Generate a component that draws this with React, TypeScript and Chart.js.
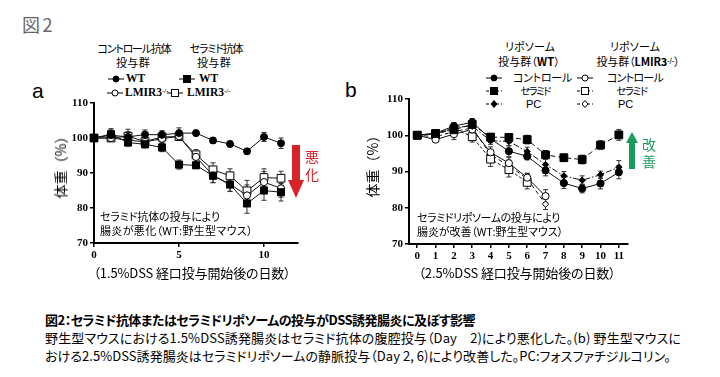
import React, { useEffect, useLayoutEffect, useRef } from 'react';
import { Chart, registerables } from 'chart.js';

Chart.register(...registerables);

// ---------- data ----------
const daysA = [0, 1, 2, 3, 4, 5, 6, 7, 8, 9, 10, 11];
const xTicksA = [0, 5, 10];
const yTicks = [70, 80, 90, 100, 110];

const wtControlA = [100, 100.8, 100.3, 101.0, 100.9, 101.4, 101.4, 99.3, 98.3, 96.2, 100.3, 98.5];
const wtControlAErr = [0, 1.8, 1.5, 1.3, 1.2, 1.5, 0.8, 0.8, 0.8, 0.8, 1.3, 1.5];
const wtCeramideA = [100, 101.1, 98.7, 98.2, 97.3, 92.4, 92.2, 89.2, 86.7, 81.3, 85.0, 84.5];
const wtCeramideAErr = [0, 1.5, 1.0, 1.0, 1.2, 1.3, 0.8, 2.0, 2.0, 2.8, 2.8, 2.5];
const lmirControlA = [100, 100.0, 99.4, 98.9, 99.8, 100.5, 94.6, 89.3, 86.8, 83.6, 87.4, 85.6];
const lmirControlAErr = [0, 1.0, 1.5, 1.5, 1.5, 1.2, 1.5, 2.0, 2.0, 3.0, 3.0, 2.5];
const lmirCeramideA = [100, 100.0, 100.5, 99.0, 100.3, 100.4, 95.2, 90.9, 89.2, 84.9, 88.7, 88.5];
const lmirCeramideAErr = [0, 1.0, 2.0, 1.5, 1.5, 1.0, 1.5, 2.0, 2.0, 3.0, 2.5, 2.0];

const daysB = [0, 1, 2, 3, 4, 5, 6, 7, 8, 9, 10, 11];
const xTicksB = [0, 1, 2, 3, 4, 5, 6, 7, 8, 9, 10, 11];

const wtControlB = [100, 100.6, 102.5, 103.6, 99.0, 95.6, 94.2, 90.3, 86.8, 85.3, 86.7, 89.8];
const wtControlBErr = [0, 0.8, 1.0, 1.0, 1.0, 1.5, 1.0, 1.5, 1.5, 1.2, 1.5, 1.8];
const wtCeramideB = [100, 100.5, 101.5, 103.0, 99.5, 99.4, 98.8, 94.6, 93.8, 93.3, 97.3, 100.1];
const wtCeramideBErr = [0, 0.8, 1.0, 1.0, 1.0, 1.0, 1.2, 1.2, 1.0, 1.2, 1.2, 1.5];
const wtPcB = [100, 100.3, 102.2, 102.5, 98.5, 98.3, 95.5, 91.9, 88.8, 87.6, 89.1, 91.2];
const wtPcBErr = [0, 0.8, 1.0, 1.0, 1.0, 1.2, 1.2, 1.5, 1.2, 1.2, 1.0, 1.8];
const lmirControlB = [100, 98.8, 100.3, 101.6, 95.3, 92.3, 88.3, 83.2];
const lmirControlBErr = [0, 0.8, 1.5, 1.5, 1.5, 1.5, 1.2, 1.8];
const lmirCeramideB = [100, 100.3, 101.8, 99.6, 93.4, 90.5, 87.0];
const lmirCeramideBErr = [0, 0.8, 1.5, 1.5, 2.0, 2.0, 1.8];
const lmirPcB = [100, 99.6, 101.0, 102.0, 94.6, 91.6, 88.0, 81.0];
const lmirPcBErr = [0, 0.8, 1.0, 1.0, 1.5, 1.5, 1.5, 1.5];

// ---------- styles ----------
const FONT_JP = '"Noto Sans CJK JP", "Noto Sans", sans-serif';
const FONT_SERIF = '"Liberation Serif", "DejaVu Serif", serif';
const FONT_SANS = '"Liberation Sans", Arial, sans-serif';
const RED = '#d9232a';
const GREEN = '#1a9c5b';

const pts = (days: number[], vals: number[]) => vals.map((v, i) => ({ x: days[i], y: v }));

const errorBars = {
  id: 'errorBars',
  beforeDatasetsDraw(chart: any) {
    const ctx = chart.ctx;
    const xs = chart.scales.x;
    const ys = chart.scales.y;
    ctx.save();
    chart.data.datasets.forEach((ds: any) => {
      if (!ds.errors) return;
      ctx.strokeStyle = '#333';
      ctx.lineWidth = 1;
      ctx.setLineDash([]);
      ds.data.forEach((p: any, i: number) => {
        const e = ds.errors[i];
        if (!e) return;
        const px = xs.getPixelForValue(p.x);
        const t = ys.getPixelForValue(p.y + e);
        const b = ys.getPixelForValue(p.y - e);
        ctx.beginPath();
        ctx.moveTo(px, t);
        ctx.lineTo(px, b);
        ctx.moveTo(px - 2.5, t);
        ctx.lineTo(px + 2.5, t);
        ctx.moveTo(px - 2.5, b);
        ctx.lineTo(px + 2.5, b);
        ctx.stroke();
      });
    });
    ctx.restore();
  },
};

function ds(label: string, days: number[], vals: number[], errs: number[], style: string, filled: boolean, r: number, dash: number[] = []) {
  return {
    label,
    data: pts(days, vals),
    errors: errs,
    borderColor: '#111',
    borderWidth: 1,
    borderDash: dash,
    pointStyle: style,
    pointRadius: r,
    pointBackgroundColor: filled ? '#000' : '#fff',
    pointBorderColor: '#000',
    pointBorderWidth: 1,
    tension: 0,
    clip: false as any,
  };
}

function scaleOpts(min: number, max: number, ticks: number[], afterFit: (s: any) => void) {
  return {
    type: 'linear' as const,
    min,
    max,
    afterBuildTicks: (s: any) => {
      s.ticks = ticks.map((v) => ({ value: v }));
    },
    afterFit,
    grid: { display: true, drawOnChartArea: false, drawTicks: true, tickLength: 4, color: '#000', lineWidth: 1.5 },
    border: { display: true, color: '#000', width: 2 },
    ticks: { font: { family: FONT_SERIF, weight: 'bold' as const, size: 11 }, color: '#000', padding: 2, maxRotation: 0, autoSkip: false },
  };
}

function PlotA() {
  const ref = useRef<HTMLCanvasElement>(null);
  useEffect(() => {
    const chart = new Chart(ref.current!, {
      type: 'line',
      data: {
        datasets: [
          ds('WT コントロール抗体', daysA, wtControlA, wtControlAErr, 'circle', true, 3.5),
          ds('WT セラミド抗体', daysA, wtCeramideA, wtCeramideAErr, 'rect', true, 5),
          ds('LMIR3-/- コントロール抗体', daysA, lmirControlA, lmirControlAErr, 'circle', false, 3.6),
          ds('LMIR3-/- セラミド抗体', daysA, lmirCeramideA, lmirCeramideAErr, 'rect', false, 5.5),
        ] as any,
      },
      options: {
        animation: false,
        responsive: false,
        maintainAspectRatio: false,
        layout: { padding: { top: 13, right: 12, bottom: 0, left: 0 } },
        plugins: { legend: { display: false }, tooltip: { enabled: false } },
        scales: {
          x: scaleOpts(0, 12, xTicksA, (s) => { s.height = 22; }),
          y: scaleOpts(70, 110, yTicks, (s) => { s.width = 74; }),
        } as any,
      },
      plugins: [errorBars],
    });
    return () => chart.destroy();
  }, []);
  return <canvas ref={ref} width={290} height={175} style={{ position: 'absolute', left: 20, top: 90, width: 290, height: 175 }} />;
}

function PlotB() {
  const ref = useRef<HTMLCanvasElement>(null);
  useEffect(() => {
    const chart = new Chart(ref.current!, {
      type: 'line',
      data: {
        datasets: [
          ds('WT コントロール', daysB, wtControlB, wtControlBErr, 'circle', true, 3.6),
          ds('WT セラミド', daysB, wtCeramideB, wtCeramideBErr, 'rect', true, 5.5, [5, 3]),
          ds('WT PC', daysB, wtPcB, wtPcBErr, 'rectRot', true, 3.2, [6, 2, 1.5, 2]),
          ds('LMIR3-/- コントロール', daysB, lmirControlB, lmirControlBErr, 'circle', false, 3.6),
          ds('LMIR3-/- セラミド', daysB, lmirCeramideB, lmirCeramideBErr, 'rect', false, 5.5, [3, 2]),
          ds('LMIR3-/- PC', daysB, lmirPcB, lmirPcBErr, 'rectRot', false, 3.2, [4, 3]),
        ] as any,
      },
      options: {
        animation: false,
        responsive: false,
        maintainAspectRatio: false,
        layout: { padding: { top: 11, right: 12, bottom: 0, left: 0 } },
        plugins: { legend: { display: false }, tooltip: { enabled: false } },
        scales: {
          x: scaleOpts(-0.45, 11.5, xTicksB, (s) => { s.height = 22; }),
          y: scaleOpts(70, 110, yTicks, (s) => { s.width = 69; }),
        } as any,
      },
      plugins: [errorBars],
    });
    return () => chart.destroy();
  }, []);
  return <canvas ref={ref} width={300} height={178} style={{ position: 'absolute', left: 340, top: 88, width: 300, height: 178 }} />;
}

type TProps = {
  x: number; y: number; w?: number; size: number; align?: 'left' | 'center';
  bold?: boolean; color?: string; family?: string; children: React.ReactNode;
};
function T({ x, y, w, size, align = 'left', bold, color = '#000', family = FONT_JP, children }: TProps) {
  const ref = useRef<HTMLDivElement>(null);
  useLayoutEffect(() => {
    const el = ref.current;
    if (!el || !w) return;
    el.style.letterSpacing = '0px';
    const cur = el.getBoundingClientRect().width;
    const n = Array.from(el.textContent || '').length;
    if (n > 1) el.style.letterSpacing = (w - cur) / n + 'px';
  }, [w]);
  return (
    <div
      ref={ref}
      style={{
        position: 'absolute', left: x, top: y,
        transform: `translate(${align === 'center' ? '-50%' : '0'}, -50%)`,
        fontSize: size, lineHeight: 1.2, fontWeight: bold ? 700 : 400, color,
        fontFamily: family, whiteSpace: 'nowrap', fontFeatureSettings: '"palt"',
      }}
    >
      {children}
    </div>
  );
}

function VT({ x, y, size, children }: { x: number; y: number; size: number; children: React.ReactNode }) {
  return (
    <div style={{
      position: 'absolute', left: x, top: y, transform: 'translate(-50%, -50%) rotate(-90deg)',
      fontSize: size, fontFamily: FONT_JP, whiteSpace: 'nowrap', lineHeight: 1, color: '#000',
    }}>{children}</div>
  );
}

function Mk({ x, y, shape, filled, dash, w = 16 }: { x: number; y: number; shape: 'circle' | 'rect' | 'diamond'; filled: boolean; dash?: string; w?: number }) {
  const c = w / 2;
  const fill = filled ? '#000' : '#fff';
  let m: React.ReactNode = null;
  if (shape === 'circle') m = <circle cx={c} cy={6} r={3} fill={fill} stroke="#000" strokeWidth={1} />;
  if (shape === 'rect') m = <rect x={c - 3.5} y={2.5} width={7} height={7} fill={fill} stroke="#000" strokeWidth={1} />;
  if (shape === 'diamond') m = <polygon points={`${c},2.5 ${c + 3},6 ${c},9.5 ${c - 3},6`} fill={fill} stroke="#000" strokeWidth={1} />;
  return (
    <svg width={w} height={12} style={{ position: 'absolute', left: x - c, top: y - 6 }}>
      <line x1={0} y1={6} x2={w} y2={6} stroke="#000" strokeWidth={1} strokeDasharray={dash} />
      {m}
    </svg>
  );
}

const sup = (s: string) => <sup style={{ fontSize: '60%', verticalAlign: '0.5em', lineHeight: 0 }}>{s}</sup>;

export default function App() {
  return (
    <div style={{ position: 'fixed', left: 0, top: 0, width: 720, height: 377, background: '#fff', overflow: 'hidden' }}>
      <T x={22} y={25} w={33} size={18} color="#666">図2</T>

      {/* panel labels */}
      <T x={32} y={91} size={21} family={FONT_SANS}>a</T>
      <T x={345} y={90} size={21} family={FONT_SANS}>b</T>

      {/* legend a */}
      <T x={134} y={49} w={73} size={11} align="center">コントロール抗体</T>
      <T x={133} y={63} w={34} size={11} align="center">投与群</T>
      <T x={216} y={49} w={53} size={11} align="center">セラミド抗体</T>
      <T x={214} y={63} w={34} size={11} align="center">投与群</T>
      <Mk x={116} y={79} shape="circle" filled />
      <T x={126} y={79} size={11.5} bold family={FONT_SERIF}>WT</T>
      <Mk x={187} y={79} shape="rect" filled />
      <T x={199} y={79} size={11.5} bold family={FONT_SERIF}>WT</T>
      <Mk x={115} y={93} shape="circle" filled={false} />
      <T x={125} y={93} size={11.5} bold family={FONT_SERIF}>LMIR3{sup('-/-')}</T>
      <Mk x={175} y={93} shape="rect" filled={false} />
      <T x={187} y={93} size={11.5} bold family={FONT_SERIF}>LMIR3{sup('-/-')}</T>

      {/* legend b */}
      <T x={530} y={47} w={50} size={11} align="center">リポソーム</T>
      <T x={529} y={62} w={62} size={11} align="center">投与群（<b>WT</b>）</T>
      <T x={635} y={47} w={50} size={11} align="center">リポソーム</T>
      <T x={638} y={62} w={83} size={11} align="center">投与群（<b>LMIR3{sup('-/-')}</b>）</T>
      <Mk x={494} y={78} shape="circle" filled />
      <T x={513} y={78} w={59} size={11}>コントロール</T>
      <Mk x={494} y={91} shape="rect" filled dash="3 2" />
      <T x={520} y={91} w={30} size={10.5}>セラミド</T>
      <Mk x={494} y={104} shape="diamond" filled dash="3 2" />
      <T x={526} y={105} size={11} family={FONT_SANS}>PC</T>
      <Mk x={585} y={78} shape="circle" filled={false} />
      <T x={607} y={78} w={56} size={11}>コントロール</T>
      <Mk x={585} y={91} shape="rect" filled={false} dash="3 2" />
      <T x={616} y={91} w={31} size={10.5}>セラミド</T>
      <Mk x={585} y={104} shape="diamond" filled={false} dash="3 2" />
      <T x={618} y={105} size={11} family={FONT_SANS}>PC</T>

      <PlotA />
      <PlotB />

      {/* axis titles */}
      <VT x={60} y={164} size={14}>体重（%）</VT>
      <VT x={372} y={163} size={14}>体重（%）</VT>
      <T x={192} y={273} w={197} size={13} align="center">（1.5%DSS 経口投与開始後の日数）</T>
      <T x={517} y={273} w={197} size={13} align="center">（2.5%DSS 経口投与開始後の日数）</T>

      {/* annotations */}
      <T x={100} y={217} w={120} size={11}>セラミド抗体の投与により</T>
      <T x={100} y={231} w={153} size={11}>腸炎が悪化（WT:野生型マウス）</T>
      <T x={417} y={218} w={143} size={11}>セラミドリポソームの投与により</T>
      <T x={417} y={232} w={146} size={11}>腸炎が改善（WT:野生型マウス）</T>

      {/* arrows */}
      <svg width={20} height={60} style={{ position: 'absolute', left: 286, top: 143 }}>
        <polygon points="6,2 14,2 14,37 18,37 10,55 2,37 6,37" fill={RED} />
      </svg>
      <T x={305} y={156} size={14} color={RED}>悪</T>
      <T x={305} y={174} size={14} color={RED}>化</T>
      <svg width={16} height={42} style={{ position: 'absolute', left: 624, top: 130 }}>
        <polygon points="8,2 14,13 11,13 11,39 5,39 5,13 2,13" fill={GREEN} />
      </svg>
      <T x={642} y={144} size={14} color={GREEN}>改</T>
      <T x={642} y={161} size={14} color={GREEN}>善</T>

      {/* caption */}
      <T x={45} y={320} w={430} size={13} bold>図2：セラミド抗体またはセラミドリポソームの投与がDSS誘発腸炎に及ぼす影響</T>
      <T x={45} y={338} w={636} size={13}>野生型マウスにおける1.5%DSS誘発腸炎はセラミド抗体の腹腔投与（Day　2)により悪化した。(b) 野生型マウスに</T>
      <T x={45} y={356} w={626} size={13}>おける2.5%DSS誘発腸炎はセラミドリポソームの静脈投与（Day 2, 6)により改善した。PC:フォスファチジルコリン。</T>
    </div>
  );
}
